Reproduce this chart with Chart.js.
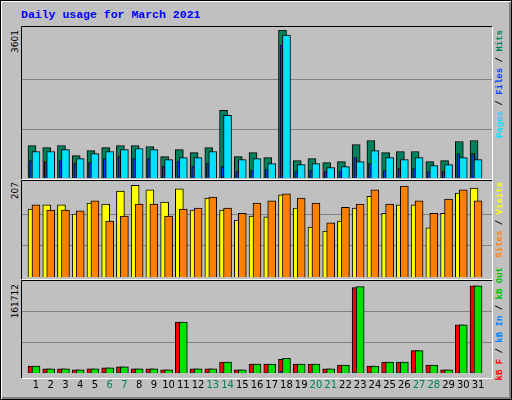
<!DOCTYPE html>
<html><head><meta charset="utf-8">
<script src="https://cdn.jsdelivr.net/npm/chart.js@4"></script>
<style>
html,body{margin:0;padding:0;}
#frame{position:absolute;left:0;top:0;width:510px;height:398px;background:#C0C0C0;border:1px solid #000;box-shadow:inset 1px 1px 0 #fff, inset -2px -2px 0 #808080;overflow:hidden;}
.cv{position:absolute;}
.t{position:absolute;white-space:nowrap;transform-origin:top left;transform:rotate(-90deg) translateX(-100%);}
.lg{font:bold 9px "Liberation Mono",monospace;line-height:10px;}
.yl{font:9px "DejaVu Sans",sans-serif;line-height:10px;color:#000;}
#title{position:absolute;left:20px;top:7px;font:bold 11.5px "Liberation Mono",monospace;color:#0000FF;}
</style></head><body>
<div id="frame">
<div id="title">Daily usage for March 2021</div>
<div class="cv" style="left:20px;top:25px;width:472px;height:154px"><canvas id="c1"></canvas></div>
<div class="cv" style="left:20px;top:179px;width:472px;height:100px"><canvas id="c2"></canvas></div>
<div class="cv" style="left:20px;top:279px;width:472px;height:117px"><canvas id="c3"></canvas></div>
<div class="t yl" style="left:9px;top:29px">3601</div>
<div class="t yl" style="left:9px;top:181px">207</div>
<div class="t yl" style="left:9px;top:283px">161712</div>
<div class="t lg" style="left:494px;top:29px"><span style="color:#00E0FF">Pages</span> / <span style="color:#0040FF">Files</span> / <span style="color:#00805C">Hits</span></div>
<div class="t lg" style="left:494px;top:181px"><span style="color:#FF8000">Sites</span> / <span style="color:#FFFF00">Visits</span></div>
<div class="t lg" style="left:494px;top:266px"><span style="color:#FF0000">kB F</span> / <span style="color:#0080FF">kB In</span> / <span style="color:#00C000">kB Out</span></div>
</div>
<script>
const days=[1,2,3,4,5,6,7,8,9,10,11,12,13,14,15,16,17,18,19,20,21,22,23,24,25,26,27,28,29,30,31];
const weekendDays=[6,7,13,14,20,21,27,28];
const hits=[790,741,790,546,668,741,790,790,766,521,692,619,741,1646,521,619,497,3601,424,473,375,399,815,912,619,644,644,399,424,888,912];
const files=[644,644,692,473,595,644,692,717,692,448,497,497,644,1523,448,473,350,3479,326,350,253,277,399,668,497,448,497,301,326,497,448];
const pages=[424,399,424,350,375,473,521,473,473,277,399,277,350,277,155,179,204,3234,155,179,155,155,497,350,179,228,228,155,155,595,595];
const visits=[148,157,157,137,161,159,187,200,190,163,192,146,172,146,124,133,131,179,150,109,100,122,150,176,139,157,157,107,139,183,194];
const sites=[157,146,146,144,166,122,133,159,159,133,148,150,174,150,139,161,166,181,172,161,118,152,159,190,159,198,166,139,170,190,166];
const kbOut=[12184,7200,7200,5538,7200,8860,10522,7200,7200,5538,88600,7200,7200,18830,5538,15500,15500,25470,15500,15500,7200,13845,150080,12184,18830,18830,38770,13845,5538,83620,151740];
const kbF=[12184,7200,7200,5538,7200,8860,10522,7200,7200,5538,88600,7200,7200,18830,5538,15500,15500,23810,15500,15500,7200,13845,148500,12184,18830,18830,38770,13845,5538,83620,151740];
const kbIn=[700,600,600,500,600,600,700,600,600,500,900,600,600,700,500,700,700,3000,700,700,600,700,1200,700,700,700,800,700,500,900,1200];

const pts=(arr,off)=>arr.map((v,i)=>({x:days[i]+off,y:v}));
const panelPlugin={id:'panel',
 beforeDatasetsDraw(c){const ctx=c.ctx,y=c.scales.y,m=c.options.plugins.panel.max;
  ctx.save();ctx.strokeStyle='#808080';ctx.lineWidth=1;
  [m/3,2*m/3].forEach(v=>{const p=Math.round(y.getPixelForValue(v))+0.5;ctx.beginPath();ctx.moveTo(0,p);ctx.lineTo(c.width,p);ctx.stroke();});
  ctx.restore();},
 afterDraw(c){const ctx=c.ctx,h=c.options.plugins.panel.h,w=c.width;
  ctx.save();ctx.lineWidth=1;
  ctx.strokeStyle='#000';ctx.beginPath();ctx.moveTo(0.5,h-0.5);ctx.lineTo(0.5,0.5);ctx.lineTo(w-0.5,0.5);ctx.stroke();
  ctx.strokeStyle='#fff';ctx.beginPath();ctx.moveTo(w-0.5,0.5);ctx.lineTo(w-0.5,h-0.5);ctx.lineTo(0.5,h-0.5);ctx.stroke();
  ctx.restore();}};
function ds(data,color,th,order){return{data,backgroundColor:color,borderColor:'#000',borderWidth:1,barThickness:th,order,grouped:false,borderSkipped:'bottom'};}
function make(id,sets,max,pad,h,showX){
 return new Chart(document.getElementById(id),{type:'bar',data:{datasets:sets},plugins:[panelPlugin],
 options:{responsive:true,maintainAspectRatio:false,animation:false,layout:{padding:pad},
  plugins:{legend:{display:false},tooltip:{enabled:false},panel:{max,h}},
  scales:{x:{type:'linear',min:0.5,max:31.5,display:showX,grid:{display:false,drawTicks:false},border:{display:false},
    afterBuildTicks:s=>{s.ticks=days.map(v=>({value:v}));},
    ticks:{autoSkip:false,maxRotation:0,padding:6,font:{family:'DejaVu Sans',size:10},
     color:ctx=>weekendDays.includes(ctx.tick.value)?'#00805C':'#000'}},
   y:{display:false,min:0,max}}}});
}
make('c1',[ds(pts(hits,-0.27),'#00805C',8,3),ds(pts(pages,-0.33),'#0040FF',3,2),ds(pts(files,0),'#00E0FF',8,1)],3601,{top:4,bottom:2,left:0,right:0},154,false);
make('c2',[ds(pts(visits,-0.27),'#FFFF00',8,2),ds(pts(sites,0),'#FF8000',8,1)],207,{top:2,bottom:3},100,false);
make('c3',[ds(pts(kbF,-0.27),'#FF0000',8,3),ds(pts(kbIn,-0.33),'#0080FF',3,2),ds(pts(kbOut,0),'#00E000',8,1)],161712,{top:0,bottom:0},99,true);
</script>
</body></html>
